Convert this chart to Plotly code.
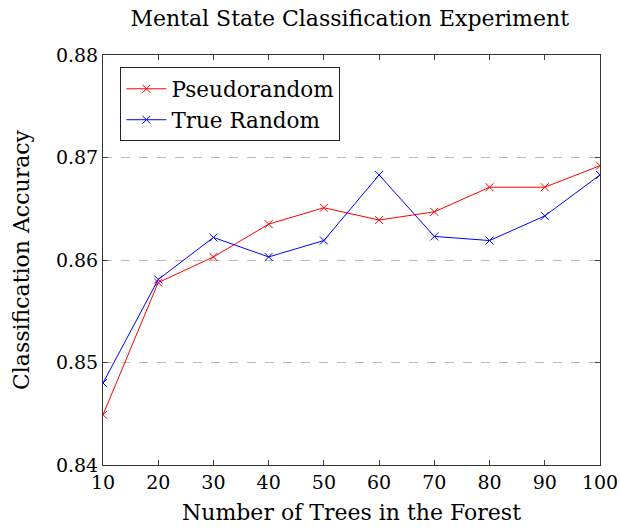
import plotly.graph_objects as go

trees = [10, 20, 30, 40, 50, 60, 70, 80, 90, 100]
pseudorandom = [0.8449, 0.8578, 0.8603, 0.8635, 0.8651, 0.8639, 0.8647, 0.8671, 0.8671, 0.8692]
true_random = [0.8480, 0.8581, 0.8622, 0.8603, 0.8619, 0.8683, 0.8623, 0.8619, 0.8643, 0.8683]
y_ticks = [0.84, 0.85, 0.86, 0.87, 0.88]

FONT = "DejaVu Serif"

fig = go.Figure()
fig.add_trace(go.Scatter(x=trees, y=pseudorandom, mode="lines+markers", name="Pseudorandom",
                         line=dict(color="red", width=1),
                         marker=dict(symbol="x-thin", size=8, line=dict(color="red", width=1))))
fig.add_trace(go.Scatter(x=trees, y=true_random, mode="lines+markers", name="True Random",
                         line=dict(color="blue", width=1),
                         marker=dict(symbol="x-thin", size=8, line=dict(color="blue", width=1))))

fig.update_layout(
    width=620, height=532,
    margin=dict(l=103, r=20, t=55, b=67, autoexpand=False),
    paper_bgcolor="white", plot_bgcolor="white",
    font=dict(family=FONT, color="black", size=19),
    title=dict(text="Mental State Classification Experiment", x=0.564, xanchor="center",
               y=0.965, yanchor="middle", font=dict(family=FONT, size=22)),
    showlegend=True,
    legend=dict(x=0.035, y=0.97, xanchor="left", yanchor="top",
                bordercolor="#222", borderwidth=1, bgcolor="white",
                font=dict(family=FONT, size=21.5), itemwidth=40, tracegroupgap=0),
    xaxis=dict(range=[10, 100], tickvals=trees, ticks="inside", ticklen=5, tickcolor="#444",
               showline=True, linecolor="#333", linewidth=1, mirror="ticks", showgrid=False,
               zeroline=False, tickfont=dict(size=19), automargin=False,
               title=dict(text="Number of Trees in the Forest", font=dict(size=22), standoff=12)),
    yaxis=dict(range=[0.84, 0.88], tickvals=y_ticks, ticktext=[f"{v:.2f}" for v in y_ticks],
               ticks="inside", ticklen=5, tickcolor="#444",
               showline=True, linecolor="#333", linewidth=1, mirror="ticks",
               showgrid=True, gridcolor="#bbbbbb", griddash="dash", gridwidth=1,
               zeroline=False, tickfont=dict(size=19), automargin=False,
               title=dict(text="Classification Accuracy", font=dict(size=22), standoff=20)),
)

fig.write_html("out.html", config={"displayModeBar": False},
               post_script="document.body.style.margin='0';")
